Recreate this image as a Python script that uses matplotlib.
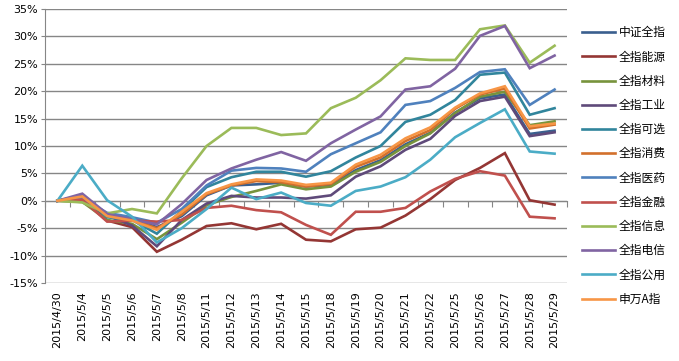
import matplotlib
matplotlib.use("Agg")
import matplotlib.pyplot as plt
import numpy as np

plt.rcParams['font.family'] = ['DejaVu Sans']

dates = ["2015/4/30", "2015/5/4", "2015/5/5", "2015/5/6", "2015/5/7", "2015/5/8",
         "2015/5/11", "2015/5/12", "2015/5/13", "2015/5/14", "2015/5/15", "2015/5/18",
         "2015/5/19", "2015/5/20", "2015/5/21", "2015/5/22", "2015/5/25", "2015/5/26",
         "2015/5/27", "2015/5/28", "2015/5/29"]

# 涨跌幅 (%)
zz_all = [0, 0.7, -2.5, -3.3, -4.8, -2.8, 1.0, 2.8, 3.0, 3.3, 2.6, 2.9,
          5.6, 7.4, 10.3, 12.4, 16.1, 18.7, 19.4, 12.2, 12.8]
energy = [0, 0.5, -3.6, -4.8, -9.3, -7.1, -4.6, -4.1, -5.2, -4.2, -7.1, -7.4,
          -5.2, -4.9, -2.7, 0.3, 3.8, 6.0, 8.7, 0.1, -0.7]
material = [0, -0.2, -3.5, -4.2, -7.0, -4.0, -0.8, 0.7, 1.8, 3.0, 2.1, 2.6,
            5.3, 7.1, 10.0, 12.3, 16.0, 19.0, 19.9, 13.8, 14.5]
industry = [0, 1.0, -2.7, -4.5, -8.3, -3.5, -0.5, 0.9, 0.6, 0.6, 0.4, 1.0,
            4.4, 6.3, 9.3, 11.3, 15.5, 18.2, 19.0, 11.8, 12.5]
optional = [0, 0.8, -3.0, -3.5, -6.0, -1.8, 2.5, 4.3, 5.3, 5.3, 4.4, 5.4,
            7.9, 10.0, 14.4, 15.7, 18.4, 23.0, 23.4, 15.7, 16.9]
consume = [0, 0.6, -2.6, -3.5, -5.0, -2.5, 1.2, 2.8, 3.6, 3.4, 2.6, 3.1,
           6.2, 7.9, 10.9, 12.9, 16.8, 19.4, 20.5, 13.2, 13.9]
medicine = [0, 0.5, -2.2, -3.0, -4.0, -1.5, 2.8, 5.5, 6.0, 5.9, 5.3, 8.5,
            10.5, 12.5, 17.5, 18.2, 20.6, 23.5, 24.0, 17.5, 20.3]
finance = [0, 0.2, -3.8, -3.6, -3.8, -3.5, -1.3, -0.9, -1.7, -2.1, -4.4, -6.2,
           -2.0, -2.0, -1.3, 1.7, 4.0, 5.4, 4.6, -2.9, -3.2]
info = [0, -0.3, -2.3, -1.5, -2.3, 4.1, 10.0, 13.3, 13.3, 12.0, 12.3, 16.9,
        18.8, 22.0, 26.0, 25.7, 25.7, 31.3, 32.0, 25.2, 28.3]
telecom = [0, 1.3, -2.4, -3.4, -4.3, -0.6, 3.8, 5.9, 7.5, 8.9, 7.3, 10.5,
           13.0, 15.4, 20.3, 20.9, 24.1, 30.1, 31.9, 24.2, 26.5]
utility = [0, 6.4, 0.1, -2.9, -7.6, -5.0, -1.5, 2.4, 0.3, 1.5, -0.4, -0.9,
           1.8, 2.6, 4.3, 7.5, 11.6, 14.2, 16.7, 9.0, 8.6]
sw_a = [0, 0.8, -2.8, -3.6, -5.3, -2.0, 1.4, 3.0, 3.9, 3.7, 2.9, 3.3,
        6.6, 8.4, 11.4, 13.4, 17.0, 19.6, 20.9, 13.6, 14.1]

names = ["中证全指", "全指能源", "全指材料", "全指工业", "全指可选", "全指消费",
         "全指医药", "全指金融", "全指信息", "全指电信", "全指公用", "申万A指"]
series = [zz_all, energy, material, industry, optional, consume,
          medicine, finance, info, telecom, utility, sw_a]
colors = ["#3A5F8E", "#943634", "#77933C", "#5F4A7A", "#31859C", "#D2702C",
          "#4F81BD", "#C0504D", "#9BBB59", "#8064A2", "#4BACC6", "#F79646"]

fig = plt.figure(figsize=(6.79, 3.61), dpi=100)
ax = fig.add_axes([45 / 679, 1 - 283 / 361, 522 / 679, 274 / 361])

x = np.arange(len(dates))
for vals, name, c in zip(series, names, colors):
    ax.plot(x, vals, color=c, lw=1.9, label=name, solid_joinstyle='miter')

ax.set_xlim(-0.5, len(dates) - 0.5)
ax.set_ylim(-15, 35)
yt = np.arange(-15, 36, 5)
ax.set_yticks(yt)
ax.set_yticklabels([f"{v}%" for v in yt], fontsize=8)
ax.yaxis.grid(True, color="#868686", lw=1)
ax.set_axisbelow(True)
ax.set_xticks(x)
ax.set_xticklabels(dates, rotation=90, fontsize=8)
ax.tick_params(axis='x', length=0, pad=6)
ax.tick_params(axis='y', length=3, color="#868686", pad=2)
for s in ["top", "right", "bottom"]:
    ax.spines[s].set_visible(False)
ax.spines["left"].set_color("#868686")

# 类别轴在0%处
sec = ax.secondary_xaxis(0.3)
sec.set_xticks(np.arange(-0.5, len(dates), 1))
sec.tick_params(axis='x', direction='out', length=4, color="#868686", labelbottom=False)
sec.spines["bottom"].set_color("#868686")

fig.legend(loc="center left", bbox_to_anchor=(576 / 679, 1 - 166 / 361),
           frameon=False, prop={'family': ['Noto Sans CJK SC', 'DejaVu Sans'], 'size': 8.5},
           handlelength=2.8, handletextpad=0.35, labelspacing=0.95, borderpad=0)

fig.savefig("out.png", dpi=100)
